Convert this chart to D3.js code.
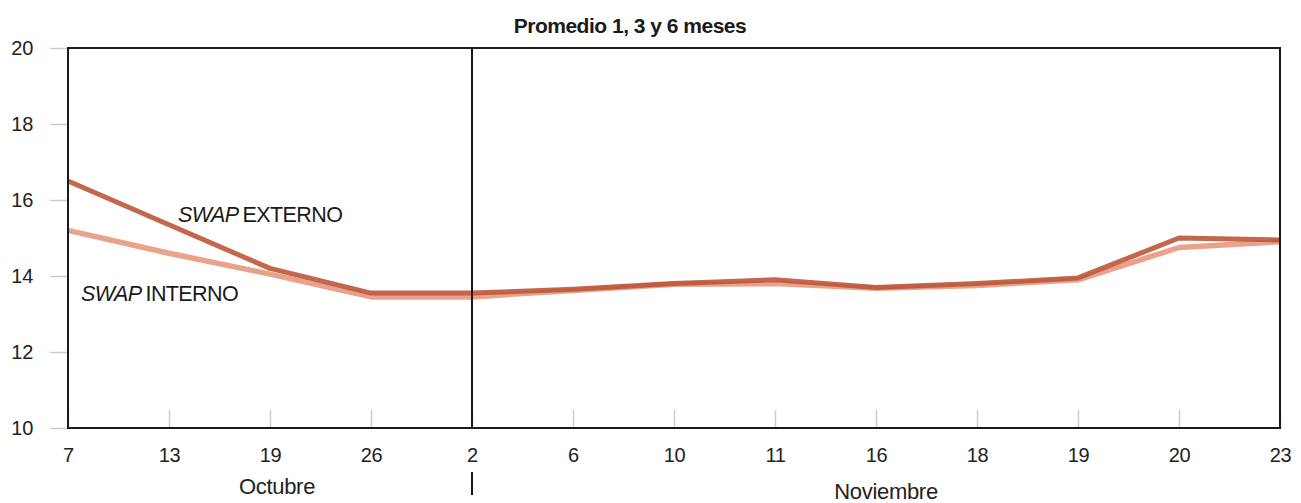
<!DOCTYPE html>
<html><head><meta charset="utf-8">
<script src="https://cdn.jsdelivr.net/npm/d3@7"></script>
<style>body{margin:0;background:#fff;} svg{display:block;font-family:"Liberation Sans",Arial,sans-serif;}</style>
</head><body>
<svg id="c" width="1301" height="503"></svg>
<script>
const categories = ["7","13","19","26","2","6","10","11","16","18","19","20","23"];
const swapExterno = [16.5,15.35,14.2,13.55,13.55,13.65,13.8,13.9,13.7,13.8,13.95,15.0,14.95];
const swapInterno = [15.2,14.6,14.05,13.45,13.45,13.62,13.78,13.8,13.68,13.75,13.9,14.75,14.9];
const yTicks = [10,12,14,16,18,20];
const months = [{label:"Octubre", from:0, to:4}, {label:"Noviembre", from:4, to:12}];

const svg = d3.select("#c");
const L=68, R=1280, T=48, B=428;
const idx = categories.map((d,i)=>i);
const x = d3.scaleLinear().domain([0, categories.length-1]).range([L, R]);
const y = d3.scaleLinear().domain([10,20]).range([B, T]);
const FF = "Liberation Sans, Arial, sans-serif";

// title
svg.append("text").attr("x",630).attr("y",33).attr("text-anchor","middle")
  .attr("font-size",21).attr("font-weight","bold").attr("letter-spacing",-0.5).attr("fill","#1a1a1a").text("Promedio 1, 3 y 6 meses");

// y axis ticks (light, outside)
const yAxis = d3.axisLeft(y).tickValues(yTicks).tickSize(18).tickPadding(17);
const gy = svg.append("g").attr("transform",`translate(${L},0)`).call(yAxis);
gy.attr("font-size",20).attr("font-family",FF);
gy.select(".domain").remove();
gy.selectAll("line").attr("stroke","#ccc").attr("stroke-width",1.5);
gy.selectAll("text").attr("fill","#222").attr("letter-spacing",-0.3);

// x axis ticks (light, inside)
const xAxis = d3.axisBottom(x).tickValues(idx).tickFormat(i=>categories[i]).tickSize(-18).tickPadding(30);
const gx = svg.append("g").attr("transform",`translate(0,${B})`).call(xAxis);
gx.attr("font-size",20).attr("font-family",FF);
gx.select(".domain").remove();
gx.selectAll("line").attr("stroke","#ccc").attr("stroke-width",1.5);
gx.selectAll("text").attr("fill","#222").attr("dy","0").attr("y",34).attr("letter-spacing",-0.3);

// lines
const line = d3.line().x((d,i)=>x(i)).y(d=>y(d));
svg.append("path").datum(swapInterno).attr("d",line).attr("fill","none")
  .attr("stroke","#e9a38c").attr("stroke-width",5.5).attr("stroke-linejoin","round");
svg.append("path").datum(swapExterno).attr("d",line).attr("fill","none")
  .attr("stroke","#bd563a").attr("stroke-width",5).attr("stroke-linejoin","round").attr("opacity",0.9);

// frame
svg.append("rect").attr("x",L).attr("y",T).attr("width",R-L).attr("height",B-T)
  .attr("fill","none").attr("stroke","#1a1a1a").attr("stroke-width",2);
// month divider
svg.append("line").attr("x1",x(4)).attr("x2",x(4)).attr("y1",T).attr("y2",B)
  .attr("stroke","#1a1a1a").attr("stroke-width",2);
svg.append("line").attr("x1",x(4)).attr("x2",x(4)).attr("y1",472).attr("y2",495)
  .attr("stroke","#1a1a1a").attr("stroke-width",2);

// month labels
svg.append("text").attr("x",277).attr("y",494).attr("text-anchor","middle").attr("font-size",22).attr("letter-spacing",-0.3).attr("fill","#222").text(months[0].label);
svg.append("text").attr("x",886).attr("y",499).attr("text-anchor","middle").attr("font-size",22).attr("letter-spacing",-0.3).attr("fill","#222").text(months[1].label);

// series labels
function seriesLabel(xp, yp, rest){
  const t = svg.append("text").attr("x",xp).attr("y",yp).attr("font-size",21.5).attr("letter-spacing",-0.6).attr("fill","#1a1a1a");
  t.append("tspan").attr("font-style","italic").text("SWAP");
  t.append("tspan").attr("dx",4).text(rest);
}
seriesLabel(178, 222, "EXTERNO");
seriesLabel(81, 301, "INTERNO");
</script>
</body></html>
